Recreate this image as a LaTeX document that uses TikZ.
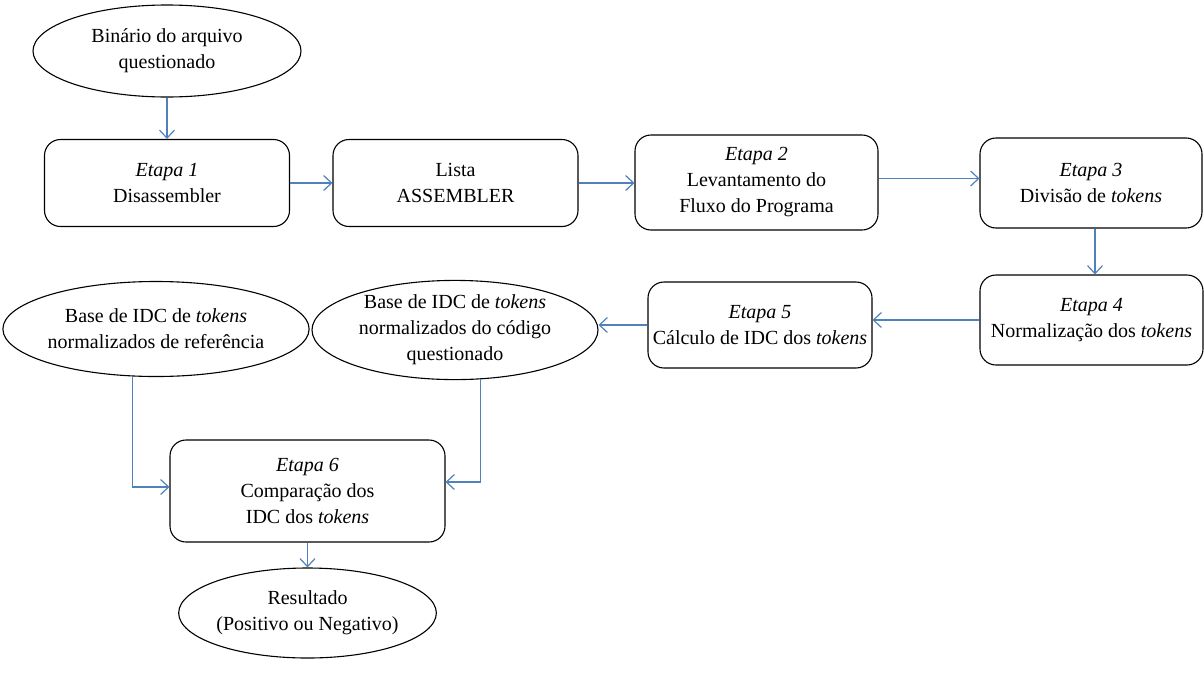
\documentclass[tikz,border=0pt]{standalone}
\usepackage{fontspec}
\setmainfont{Liberation Serif}
\usetikzlibrary{arrows.meta,shapes.geometric}
\definecolor{flowblue}{RGB}{79,129,189}
\begin{document}
\begin{tikzpicture}[x=1pt,y=-1pt,
  every node/.style={font=\fontsize{20}{26}\selectfont, align=center, inner sep=0pt},
  stepbox/.style={draw=black, line width=1.1pt, rectangle, rounded corners=16pt},
  oval/.style={draw=black, line width=1.1pt, ellipse},
  flow/.style={draw=flowblue, line width=1.2pt, -{Straight Barb[length=8pt,width=15pt,line width=1.2pt]}}
]
\useasboundingbox (0,0) rectangle (1204,675);

% top row
\node[oval, minimum width=268, minimum height=92] (bin) at (167,51)
  {Binário do arquivo\\questionado};
\node[stepbox, minimum width=245, minimum height=87] (e1) at (167,183)
  {\textit{Etapa 1}\\Disassembler};
\node[stepbox, minimum width=245, minimum height=87] (lista) at (455.5,183)
  {Lista\\ASSEMBLER};
\node[stepbox, minimum width=243, minimum height=95] (e2) at (756.5,182.5)
  {\textit{Etapa 2}\\Levantamento do\\Fluxo do Programa};
\node[stepbox, minimum width=222, minimum height=90] (e3) at (1091,183)
  {\textit{Etapa 3}\\Divisão de \textit{tokens}};

% middle row
\node[stepbox, minimum width=223, minimum height=90] (e4) at (1091.5,320)
  {\textit{Etapa 4}\\Normalização dos \textit{tokens}};
\node[stepbox, minimum width=224, minimum height=86] (e5) at (760,325)
  {\textit{Etapa 5}\\Cálculo de IDC dos \textit{tokens}};
\node[oval, minimum width=286, minimum height=98] (quest) at (455,330)
  {Base de IDC de \textit{tokens}\\normalizados do código\\questionado};
\node[oval, minimum width=290, minimum height=95] (ref) at (156,329)
  {Base de IDC de \textit{tokens}\\normalizados de referência};

% bottom
\node[stepbox, minimum width=275, minimum height=102] (e6) at (307.5,491)
  {\textit{Etapa 6}\\Comparação dos\\IDC dos \textit{tokens}};
\node[oval, minimum width=252, minimum height=90] (res) at (307.5,613)
  {Resultado\\(Positivo ou Negativo)};

% connectors
\draw[flow] (bin.south) -- (bin.south |- e1.north);
\draw[flow] (e1.east) -- (lista.west);
\draw[flow] (lista.east) -- (lista.east -| e2.west);
\draw[flow] ([yshift=4pt]e2.east) -- ([yshift=4pt]e2.east -| e3.west);
\draw[flow] ([xshift=4pt]e3.south) -- ([xshift=4pt]e3.south |- e4.north);
\draw[flow] (e4.west) -- (e4.west -| e5.east);
\draw[flow] (e5.west) -- (e5.west -| quest.east);
\draw[flow] (ref.-116) |- ([yshift=4pt]e6.west);
\draw[flow] (quest.-63) |- ([yshift=9pt]e6.east);
\draw[flow] (e6.south) -- (res.north);
\end{tikzpicture}
\end{document}
